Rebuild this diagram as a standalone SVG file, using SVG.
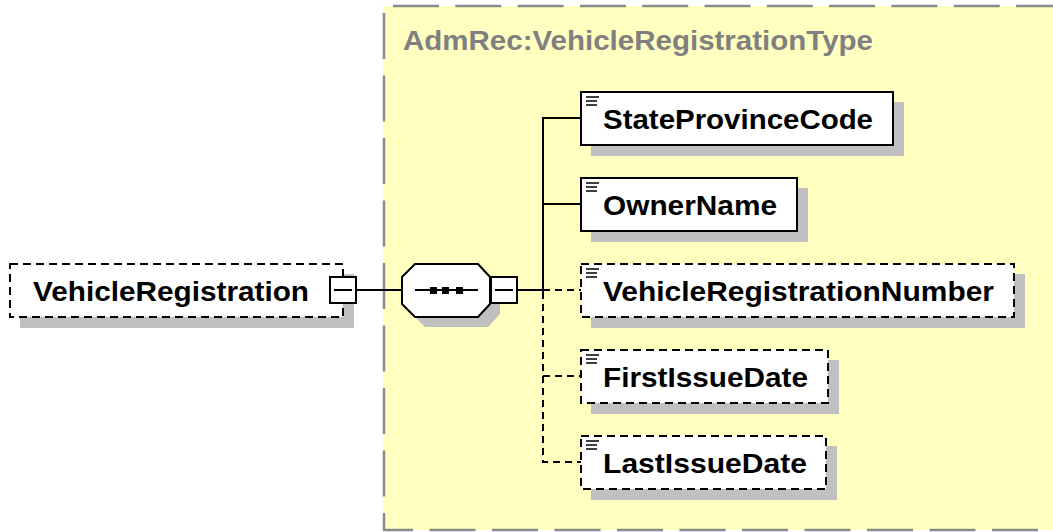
<svg xmlns="http://www.w3.org/2000/svg" width="1053" height="532" viewBox="0 0 1053 532">
<style>
.shadow{fill:#c0c0c0}
.box{fill:#fff;stroke:#000;stroke-width:2}
.opt{fill:#fff;stroke:#000;stroke-width:2;stroke-dasharray:8 5}
.lbl{font-family:"Liberation Sans",Arial,sans-serif;font-weight:bold;font-size:28px;fill:#000}
.title{font-family:"Liberation Sans",Arial,sans-serif;font-weight:bold;font-size:27px;fill:#808080}
.conn{fill:none;stroke:#000;stroke-width:2}
.dconn{fill:none;stroke:#000;stroke-width:2;stroke-dasharray:7 5}
.icon{stroke:#000;stroke-width:1.6}
.frame{fill:none;stroke:#8a8a8a;stroke-width:2.5}
</style>
<rect width="1053" height="532" fill="#fff"/>
<g id="complexType">
  <rect x="383" y="6" width="680" height="524" fill="#ffffc0"/>
  <line class="frame" x1="393" y1="6" x2="1060" y2="6" stroke-dasharray="46 16.3"/>
  <path class="frame" d="M384,13 V530 H1060" stroke-dasharray="46 16.5"/>
  <text class="title" x="403" y="50" textLength="470" lengthAdjust="spacingAndGlyphs">AdmRec:VehicleRegistrationType</text>
</g>
<g id="connectors">
  <path class="conn" d="M356,290 H402"/>
  <path class="conn" d="M517,290 H543"/>
  <path class="conn" d="M543,292 V118 H581"/>
  <path class="conn" d="M543,204 H581"/>
  <path class="dconn" d="M543,290 H581"/>
  <path class="dconn" d="M543,292 V462 H581"/>
  <path class="dconn" d="M543,376 H581"/>
</g>
<g id="VehicleRegistration">
  <rect class="shadow" x="20" y="274" width="334" height="54"/>
  <rect class="opt" x="10" y="264" width="333" height="53"/>
  <text class="lbl" x="33" y="301" textLength="276" lengthAdjust="spacingAndGlyphs">VehicleRegistration</text>
  <rect class="box" x="330" y="277" width="26" height="26"/>
  <line class="conn" x1="334" y1="290" x2="352" y2="290"/>
</g>
<g id="sequence">
  <polygon class="shadow" points="425,274 488,274 500,287 500,314 488,327 425,327 412,314 412,287"/>
  <polygon class="box" points="415,264 478,264 490,277 490,304 478,317 415,317 402,304 402,277"/>
  <line class="conn" x1="415" y1="290" x2="478" y2="290"/>
  <rect x="430" y="287" width="7" height="7" fill="#000"/>
  <rect x="442" y="287" width="7" height="7" fill="#000"/>
  <rect x="456" y="287" width="7" height="7" fill="#000"/>
  <rect class="box" x="491" y="277" width="26" height="26"/>
  <line class="conn" x1="495" y1="290" x2="513" y2="290"/>
</g>
<g id="StateProvinceCode">
  <rect class="shadow" x="591" y="102" width="313" height="54"/>
  <rect class="box" x="581" y="92" width="312" height="53"/>
  <path class="icon" d="M586,97 H599 M586,101 H597 M586,105 H597"/>
  <text class="lbl" x="603" y="129" textLength="270" lengthAdjust="spacingAndGlyphs">StateProvinceCode</text>
</g>
<g id="OwnerName">
  <rect class="shadow" x="591" y="188" width="217" height="54"/>
  <rect class="box" x="581" y="178" width="216" height="53"/>
  <path class="icon" d="M586,183 H599 M586,187 H597 M586,191 H597"/>
  <text class="lbl" x="603" y="215" textLength="174" lengthAdjust="spacingAndGlyphs">OwnerName</text>
</g>
<g id="VehicleRegistrationNumber">
  <rect class="shadow" x="591" y="274" width="434" height="54"/>
  <rect class="opt" x="581" y="264" width="433" height="53"/>
  <path class="icon" d="M586,269 H599 M586,273 H597 M586,277 H597"/>
  <text class="lbl" x="603" y="301" textLength="391" lengthAdjust="spacingAndGlyphs">VehicleRegistrationNumber</text>
</g>
<g id="FirstIssueDate">
  <rect class="shadow" x="591" y="360" width="248" height="54"/>
  <rect class="opt" x="581" y="350" width="247" height="53"/>
  <path class="icon" d="M586,355 H599 M586,359 H597 M586,363 H597"/>
  <text class="lbl" x="603" y="387" textLength="205" lengthAdjust="spacingAndGlyphs">FirstIssueDate</text>
</g>
<g id="LastIssueDate">
  <rect class="shadow" x="591" y="446" width="246" height="54"/>
  <rect class="opt" x="581" y="436" width="245" height="53"/>
  <path class="icon" d="M586,441 H599 M586,445 H597 M586,449 H597"/>
  <text class="lbl" x="603" y="473" textLength="204" lengthAdjust="spacingAndGlyphs">LastIssueDate</text>
</g>
</svg>
